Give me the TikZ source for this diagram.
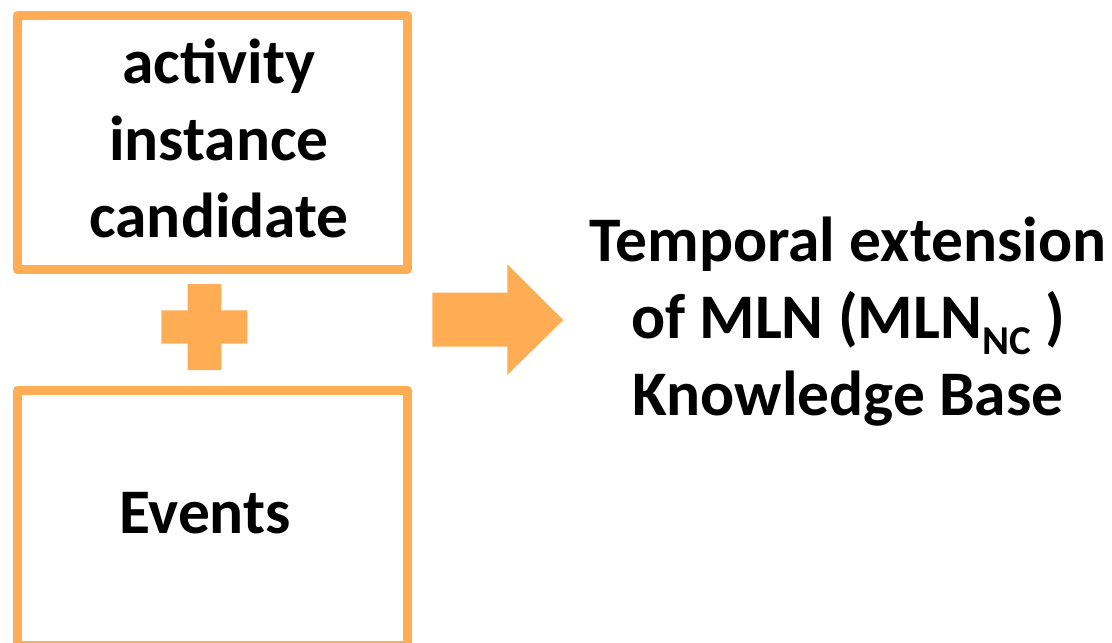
\documentclass[tikz,border=0pt]{standalone}
\usepackage{fontspec}
\setmainfont{Carlito}
\definecolor{accent}{RGB}{255,173,85}
\begin{document}
\begin{tikzpicture}[x=1pt,y=-1pt,
  box/.style={draw=accent, line width=9pt, line join=round, inner sep=0pt,
              minimum width=390pt},
  txt/.style={inner sep=0pt, anchor=base, font=\bfseries\fontsize{63.5}{77}\selectfont},
  blob/.style={fill=accent, draw=none}]
\useasboundingbox (0,0) rectangle (1112,643);

% the two input boxes
\node[box, minimum height=254pt] (cand) at (212,142.5) {};
\node[box, minimum height=255.5pt] (events) at (212,517.75) {};

% their labels
\node[txt] (candtext) at (219,83)
  {\begin{tabular}[t]{@{}c@{}}activity\\instance\\candidate\end{tabular}};
\node[txt] (eventstext) at (205,533) {Events};

% plus sign between the boxes
\fill[blob] (187.7,284) -- (221.3,284) -- (221.3,310.3) -- (247.3,310.3)
  -- (247.3,343.7) -- (221.3,343.7) -- (221.3,370) -- (187.7,370)
  -- (187.7,343.7) -- (161.3,343.7) -- (161.3,310.3) -- (187.7,310.3) -- cycle;

% block arrow towards the result
\fill[blob] (432.3,292.7) -- (507.3,292.7) -- (507.3,264.3) -- (563.3,320)
  -- (507.3,375) -- (507.3,346.7) -- (432.3,346.7) -- cycle;

% result
\node[txt] (result) at (848,261)
  {\begin{tabular}[t]{@{}c@{}}Temporal extension\\
   of MLN (MLN\raisebox{-16pt}{\fontsize{41}{41}\selectfont NC} )\\
   Knowledge Base\end{tabular}};
\end{tikzpicture}
\end{document}
